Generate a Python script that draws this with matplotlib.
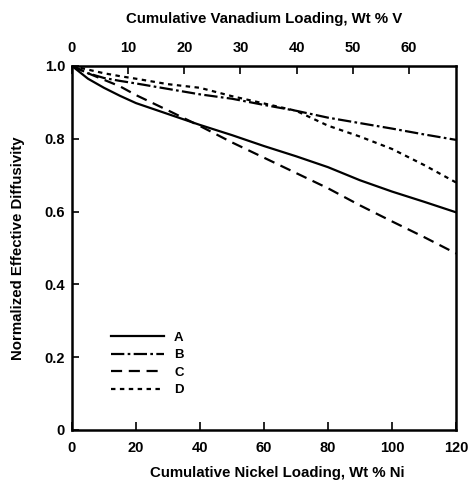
import matplotlib
matplotlib.use("Agg")
import matplotlib.pyplot as plt

plt.rcParams['font.family'] = ['Liberation Sans', 'DejaVu Sans']
plt.rcParams['font.weight'] = 'bold'

# nickel loading, wt % Ni
ni = [0, 5, 10, 15, 20, 30, 40, 50, 60, 70, 80, 90, 100, 110, 120]

curve_a = [1.0, 0.965, 0.94, 0.918, 0.898, 0.868, 0.838, 0.81, 0.78, 0.752, 0.722, 0.686, 0.655, 0.627, 0.598]
curve_b = [1.0, 0.98, 0.967, 0.959, 0.952, 0.937, 0.922, 0.91, 0.893, 0.877, 0.858, 0.843, 0.828, 0.812, 0.797]
curve_c = [1.0, 0.98, 0.962, 0.944, 0.92, 0.878, 0.835, 0.79, 0.748, 0.706, 0.664, 0.617, 0.573, 0.53, 0.485]
curve_d = [1.0, 0.99, 0.98, 0.972, 0.965, 0.95, 0.94, 0.917, 0.897, 0.877, 0.836, 0.806, 0.772, 0.728, 0.68]

labels = ['A', 'B', 'C', 'D']
v_per_ni = 0.57  # top axis scale: wt % V per wt % Ni

fig = plt.figure(figsize=(4.69, 4.88), dpi=100)
ax = fig.add_axes([0.1535, 0.1189, 0.8188, 0.7459])

ax.plot(ni, curve_a, color='black', lw=1.6, linestyle='-', label=labels[0])
ax.plot(ni, curve_b, color='black', lw=1.6, linestyle=(0, (6, 1.5, 1.2, 1.5)), label=labels[1])
ax.plot(ni, curve_c, color='black', lw=1.6, linestyle=(0, (5, 3)), label=labels[2])
ax.plot(ni, curve_d, color='black', lw=1.6, linestyle=(0, (2, 2)), label=labels[3])

ax.set_xlim(0, 120)
ax.set_ylim(0, 1.0)
ax.set_xticks([0, 20, 40, 60, 80, 100, 120])
ax.set_yticks([0, 0.2, 0.4, 0.6, 0.8, 1.0])
ax.set_yticklabels(['0', '0.2', '0.4', '0.6', '0.8', '1.0'])
ax.tick_params(direction='in', length=6, width=1.2, labelsize=10.5)
ax.tick_params(axis='x', pad=8)
ax.tick_params(axis='y', length=5, pad=5)
for s in ax.spines.values():
    s.set_linewidth(1.8)

ax.set_xlabel('Cumulative Nickel Loading, Wt % Ni', fontsize=10.8, fontweight='bold', labelpad=8)
ax.xaxis.set_label_coords(0.535, -0.1)
ax.set_ylabel('Normalized Effective Diffusivity', fontsize=10.8, fontweight='bold', labelpad=14)

top = ax.secondary_xaxis('top', functions=(lambda x: x * v_per_ni, lambda v: v / v_per_ni))
top.set_xticks([0, 10, 20, 30, 40, 50, 60])
top.tick_params(direction='in', length=6, width=1.2, labelsize=10.5, pad=8)
top.set_xlabel('Cumulative Vanadium Loading, Wt % V', fontsize=10.8, fontweight='bold', labelpad=13)

leg = ax.legend(loc='lower left', bbox_to_anchor=(0.07, 0.06), frameon=False,
                handlelength=4.0, handletextpad=0.8, labelspacing=0.4, fontsize=9.5)

fig.savefig('out.png', dpi=100)
